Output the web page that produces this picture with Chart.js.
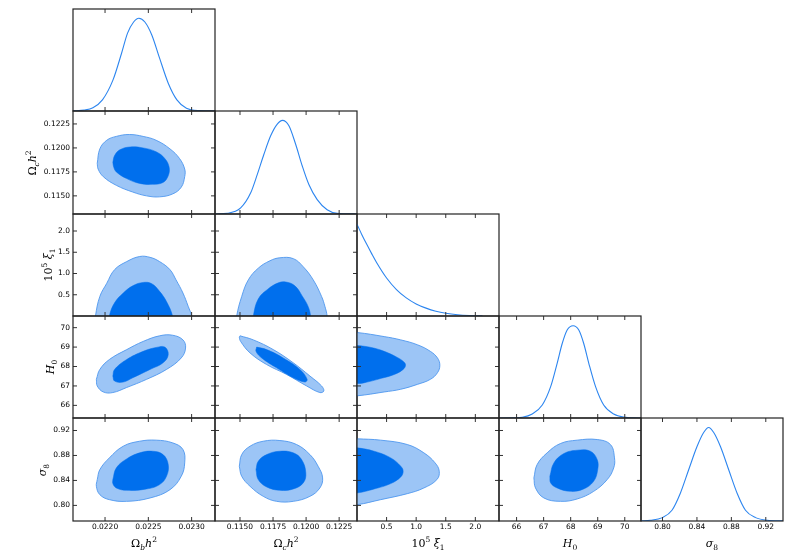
<!DOCTYPE html>
<html>
<head>
<meta charset="utf-8">
<script src="https://cdn.jsdelivr.net/npm/chart.js@4.4.0/dist/chart.umd.min.js"></script>
<style>
body { margin: 0; background: #fff; }
#wrap { position: relative; width: 797px; height: 556px; overflow: hidden; }
.panel { position: absolute; }
.lab { position: absolute; font-family: 'DejaVu Serif', serif; font-size: 11px; white-space: nowrap; color: #000; line-height: 1; }
.lab sub, .lab sup { font-size: 7.5px; line-height: 0; }
.xlab { transform: translate(-50%, -50%); }
.ylab { transform: translate(-50%, -50%) rotate(-90deg); }
</style>
</head>
<body>
<div id="wrap"></div>
<script>
// parameter names, axis ranges and ticks
const obName = 'Ω<sub><i>b</i></sub><i>h</i><sup>2</sup>';
const ocName = 'Ω<sub><i>c</i></sub><i>h</i><sup>2</sup>';
const xiName = '10<sup>5</sup> <i>ξ</i><sub>1</sub>';
const hName = '<i>H</i><sub>0</sub>';
const sName = '<i>σ</i><sub>8</sub>';

const obRange = [0.02163, 0.02327];
const ocRange = [0.11311, 0.12385];
const xiRange = [0, 2.4];
const hRange = [65.35, 70.6];
const sRange = [0.775, 0.940];

const obTicks = [0.0220, 0.0225, 0.0230];
const obTickLabels = ['0.0220', '0.0225', '0.0230'];
const ocTicks = [0.1150, 0.1175, 0.1200, 0.1225];
const ocTickLabels = ['0.1150', '0.1175', '0.1200', '0.1225'];
const xiTicks = [0.5, 1.0, 1.5, 2.0];
const xiTickLabels = ['0.5', '1.0', '1.5', '2.0'];
const hTicks = [66, 67, 68, 69, 70];
const hTickLabels = ['66', '67', '68', '69', '70'];
const sTicks = [0.80, 0.84, 0.88, 0.92];
const sTickLabels = ['0.80', '0.84', '0.88', '0.92'];

// 1D marginals
const obPdfX = [0.02163, 0.02176, 0.02186, 0.02197, 0.02209, 0.02219, 0.02226, 0.02233, 0.02239, 0.02246, 0.02254, 0.02263, 0.02273, 0.02283, 0.02294, 0.02310, 0.02327];
const obPdfY = [0.001, 0.010, 0.035, 0.12, 0.33, 0.62, 0.84, 0.96, 1.0, 0.96, 0.82, 0.57, 0.30, 0.12, 0.03, 0.004, 0.0005];
const ocPdfX = [0.11311, 0.11404, 0.11505, 0.11581, 0.11631, 0.11681, 0.11732, 0.11782, 0.11821, 0.11870, 0.11921, 0.11971, 0.12021, 0.12084, 0.12159, 0.12235, 0.12385];
const ocPdfY = [0.0005, 0.0075, 0.065, 0.226, 0.423, 0.638, 0.835, 0.96, 1.0, 0.943, 0.745, 0.513, 0.315, 0.154, 0.046, 0.0075, 0.0005];
const xiPdfX = [0, 0.08, 0.167, 0.25, 0.333, 0.5, 0.667, 0.833, 1.0, 1.167, 1.333, 1.5, 1.7, 1.9, 2.12];
const xiPdfY = [0.99, 0.88, 0.77, 0.67, 0.575, 0.41, 0.285, 0.195, 0.13, 0.085, 0.052, 0.03, 0.014, 0.006, 0.002];
const hPdfX = [65.35, 65.9, 66.21, 66.58, 66.95, 67.26, 67.5, 67.69, 67.87, 68.09, 68.3, 68.48, 68.67, 68.92, 69.22, 69.59, 70.03, 70.3, 70.6];
const hPdfY = [0.0003, 0.002, 0.0075, 0.043, 0.14, 0.338, 0.59, 0.806, 0.949, 0.995, 0.949, 0.806, 0.59, 0.338, 0.14, 0.043, 0.0075, 0.002, 0.0003];
const sPdfX = [0.775, 0.7857, 0.7999, 0.811, 0.8206, 0.8303, 0.8401, 0.8478, 0.8536, 0.8595, 0.8673, 0.877, 0.8868, 0.8964, 0.9081, 0.9217, 0.94];
const sPdfY = [0.002, 0.0075, 0.036, 0.115, 0.294, 0.545, 0.795, 0.945, 0.999, 0.945, 0.795, 0.545, 0.294, 0.115, 0.036, 0.0075, 0.001];
const pdfRange = [0, 1.1];

// 2D contours: 95% (outer) and 68% (inner), [x, y] pairs
const obOc95 = [[0.02191,0.1184],[0.02194,0.1199],[0.02202,0.1208],[0.02213,0.1212],[0.02228,0.1214],[0.02244,0.1212],[0.02259,0.1208],[0.02275,0.1199],[0.02286,0.1189],[0.02292,0.1178],[0.02292,0.1170],[0.02288,0.1159],[0.02278,0.1152],[0.02263,0.1149],[0.02248,0.1150],[0.02232,0.1154],[0.02213,0.1161],[0.02198,0.1170],[0.02192,0.1178]];
const obOc68 = [[0.02209,0.1185],[0.02211,0.1192],[0.02217,0.1198],[0.02229,0.1201],[0.02244,0.1200],[0.02259,0.1196],[0.02269,0.1189],[0.02274,0.1180],[0.02273,0.1171],[0.02267,0.1164],[0.02255,0.1162],[0.02240,0.1163],[0.02225,0.1168],[0.02213,0.1175],[0.02210,0.1180]];

const obXi95 = [[0.02189,-0.2],[0.02189,0],[0.02194,0.46],[0.02202,0.77],[0.02211,1.09],[0.02225,1.28],[0.02240,1.40],[0.02252,1.38],[0.02263,1.28],[0.02275,1.09],[0.02282,0.85],[0.02290,0.54],[0.02296,0.23],[0.02300,0],[0.02300,-0.2]];
const obXi68 = [[0.02205,-0.2],[0.02205,0],[0.02211,0.31],[0.02221,0.54],[0.02232,0.71],[0.02244,0.79],[0.02254,0.76],[0.02263,0.58],[0.02271,0.34],[0.02278,0],[0.02278,-0.2]];
const ocXi95 = [[0.11475,-0.2],[0.11475,0],[0.11513,0.46],[0.11563,0.85],[0.11638,1.125],[0.11727,1.30],[0.11802,1.37],[0.11903,1.35],[0.11978,1.16],[0.12054,0.85],[0.12117,0.46],[0.12142,0.23],[0.12159,0],[0.12159,-0.2]];
const ocXi68 = [[0.11601,-0.2],[0.11601,0],[0.11638,0.40],[0.11710,0.63],[0.11790,0.78],[0.11847,0.80],[0.11915,0.71],[0.11975,0.45],[0.12016,0.22],[0.12034,0],[0.12034,-0.2]];

const obH95 = [[0.02190,67.34],[0.02194,67.85],[0.02205,68.36],[0.02225,68.87],[0.02244,69.29],[0.02263,69.58],[0.02278,69.61],[0.02290,69.37],[0.02293,68.95],[0.02288,68.44],[0.02271,67.85],[0.02248,67.34],[0.02225,66.92],[0.02209,66.66],[0.02198,66.69],[0.02191,67.00]];
const obH68 = [[0.02209,67.51],[0.02211,67.85],[0.02225,68.36],[0.02244,68.78],[0.02259,68.98],[0.02269,69.00],[0.02273,68.61],[0.02267,68.19],[0.02252,67.85],[0.02232,67.42],[0.02221,67.20],[0.02211,67.25]];
const ocH95 = [[0.11500,69.58],[0.11601,69.37],[0.11752,68.87],[0.11903,68.19],[0.12029,67.51],[0.12117,67.00],[0.12134,66.74],[0.12104,66.66],[0.12004,67.00],[0.11853,67.59],[0.11702,68.10],[0.11576,68.70],[0.11505,69.29],[0.11495,69.51]];
const ocH68 = [[0.11626,69.00],[0.11702,68.87],[0.11827,68.44],[0.11953,67.85],[0.12008,67.34],[0.11991,67.20],[0.11903,67.42],[0.11777,67.93],[0.11664,68.44],[0.11621,68.78]];
const xiH95 = [[-0.2,69.76],[0,69.75],[0.46,69.54],[0.74,69.37],[1.02,69.12],[1.24,68.78],[1.36,68.44],[1.40,68.07],[1.36,67.68],[1.24,67.34],[1.02,67.08],[0.74,66.83],[0.46,66.69],[0,66.49],[-0.2,66.48]];
const xiH68 = [[-0.2,69.10],[0,69.08],[0.24,68.98],[0.46,68.78],[0.68,68.47],[0.79,68.24],[0.82,68.07],[0.78,67.85],[0.63,67.59],[0.41,67.39],[0.13,67.17],[0,67.12],[-0.2,67.10]];

const obS95 = [[0.02191,0.8413],[0.02194,0.8573],[0.02205,0.8761],[0.02221,0.8948],[0.02240,0.9028],[0.02259,0.9045],[0.02278,0.9002],[0.02290,0.8895],[0.02292,0.8681],[0.02288,0.8466],[0.02275,0.8252],[0.02252,0.8119],[0.02225,0.8065],[0.02205,0.8092],[0.02194,0.8172],[0.02190,0.8306]];
const obS68 = [[0.02209,0.8413],[0.02213,0.8600],[0.02225,0.8745],[0.02240,0.8842],[0.02255,0.8868],[0.02267,0.8814],[0.02273,0.8654],[0.02271,0.8466],[0.02263,0.8333],[0.02248,0.8263],[0.02225,0.8241],[0.02213,0.8279],[0.02209,0.8349]];
const ocS95 = [[0.11495,0.8627],[0.11513,0.8814],[0.11576,0.8948],[0.11676,0.9028],[0.11802,0.9039],[0.11928,0.8975],[0.12029,0.8814],[0.12091,0.8627],[0.12125,0.8440],[0.12104,0.8279],[0.12029,0.8145],[0.11903,0.8065],[0.11777,0.8065],[0.11676,0.8145],[0.11576,0.8306],[0.11513,0.8466]];
const ocS68 = [[0.11621,0.8573],[0.11638,0.8707],[0.11702,0.8814],[0.11802,0.8868],[0.11903,0.8842],[0.11966,0.8734],[0.11998,0.8520],[0.11978,0.8359],[0.11903,0.8263],[0.11802,0.8241],[0.11702,0.8295],[0.11638,0.8413]];
const xiS95 = [[-0.2,0.9068],[0,0.9066],[0.40,0.9045],[0.85,0.8975],[1.13,0.8842],[1.32,0.8681],[1.39,0.8547],[1.35,0.8413],[1.13,0.8279],[0.85,0.8188],[0.40,0.8092],[0,0.8011],[-0.2,0.8008]];
const xiS68 = [[-0.2,0.8924],[0,0.8922],[0.29,0.8868],[0.57,0.8761],[0.74,0.8627],[0.78,0.8547],[0.74,0.8456],[0.57,0.8349],[0.29,0.8263],[0,0.8199],[-0.2,0.8197]];
const hS95 = [[66.64,0.8440],[66.76,0.8654],[67.13,0.8842],[67.62,0.8991],[68.24,0.9045],[68.98,0.9055],[69.47,0.8975],[69.62,0.8761],[69.59,0.8600],[69.35,0.8413],[68.85,0.8225],[68.24,0.8103],[67.62,0.8065],[67.01,0.8119],[66.70,0.8279]];
const hS68 = [[67.23,0.8466],[67.38,0.8681],[67.75,0.8831],[68.24,0.8884],[68.73,0.8868],[68.98,0.8734],[69.00,0.8573],[68.85,0.8386],[68.48,0.8263],[67.99,0.8225],[67.50,0.8279],[67.26,0.8360]];

const params = [
  {name: obName, range: obRange, ticks: obTicks, labels: obTickLabels, pdfX: obPdfX, pdfY: obPdfY},
  {name: ocName, range: ocRange, ticks: ocTicks, labels: ocTickLabels, pdfX: ocPdfX, pdfY: ocPdfY},
  {name: xiName, range: xiRange, ticks: xiTicks, labels: xiTickLabels, pdfX: xiPdfX, pdfY: xiPdfY},
  {name: hName, range: hRange, ticks: hTicks, labels: hTickLabels, pdfX: hPdfX, pdfY: hPdfY},
  {name: sName, range: sRange, ticks: sTicks, labels: sTickLabels, pdfX: sPdfX, pdfY: sPdfY}
];
const contours = [
  [],
  [[obOc95, obOc68]],
  [[obXi95, obXi68], [ocXi95, ocXi68]],
  [[obH95, obH68], [ocH95, ocH68], [xiH95, xiH68]],
  [[obS95, obS68], [ocS95, ocS68], [xiS95, xiS68], [hS95, hS68]]
];

// layout
const PW = 142, ML = 40, MB = 16, PT = 3, PR = 3;
const colLeft = c => 73 + PW * c;
const rowTop = r => Math.round(9 + 102.35 * r);
const yLabelX = [32, 48, 50, 42];

const LIGHT = '#9cc5f6', EDGE = '#4f97ee', DARK = '#006fed', LINE = '#2c85ef';
const tickFont = {family: 'DejaVu Sans', size: 7.5};

// matplotlib-like frame with inward ticks on all four sides
const framePlugin = {
  id: 'frame',
  afterDatasetsDraw(chart, args, opts) {
    const {ctx, chartArea: a} = chart;
    ctx.save();
    ctx.strokeStyle = '#333';
    ctx.lineWidth = 1;
    const xs = chart.scales.x;
    ctx.beginPath();
    xs.ticks.forEach(t => {
      const p = xs.getPixelForValue(t.value);
      ctx.moveTo(p, a.bottom); ctx.lineTo(p, a.bottom - 4);
      ctx.moveTo(p, a.top); ctx.lineTo(p, a.top + 4);
    });
    if (opts.yTicks) {
      const ys = chart.scales.y;
      ys.ticks.forEach(t => {
        const p = ys.getPixelForValue(t.value);
        ctx.moveTo(a.left, p); ctx.lineTo(a.left + 4, p);
        ctx.moveTo(a.right, p); ctx.lineTo(a.right - 4, p);
      });
    }
    ctx.stroke();
    ctx.strokeStyle = '#222';
    ctx.lineWidth = 1.2;
    ctx.strokeRect(a.left, a.top, a.right - a.left, a.bottom - a.top);
    ctx.restore();
  }
};

function axis(range, ticks, labels, pos, showLabels, useTicks) {
  return {
    type: 'linear',
    position: pos,
    min: range[0],
    max: range[1],
    grid: {display: false, drawTicks: false},
    border: {display: false},
    afterBuildTicks: s => { s.ticks = useTicks ? ticks.map(v => ({value: v})) : []; },
    afterFit: s => {
      if (pos === 'bottom') s.height = MB; else s.width = ML;
      s.paddingTop = 0; s.paddingBottom = 0; s.paddingLeft = 0; s.paddingRight = 0;
    },
    ticks: {
      display: showLabels,
      autoSkip: false,
      maxRotation: 0,
      padding: pos === 'bottom' ? 2 : 3,
      font: tickFont,
      color: '#000',
      callback: (v, i) => labels[i]
    }
  };
}

function shape(pts, fillColor, edgeColor, width, order) {
  const data = pts.map(p => ({x: p[0], y: p[1]}));
  data.push({x: pts[0][0], y: pts[0][1]});
  return {
    data, order,
    fill: 'shape',
    backgroundColor: fillColor,
    borderColor: edgeColor,
    borderWidth: width,
    tension: 0.4,
    pointRadius: 0,
    clip: 0
  };
}

const wrap = document.getElementById('wrap');
for (let r = 0; r < 5; r++) {
  for (let c = 0; c <= r; c++) {
    const top = rowTop(r), h = rowTop(r + 1) - top;
    const div = document.createElement('div');
    div.className = 'panel';
    div.style.left = (colLeft(c) - ML) + 'px';
    div.style.top = (top - PT) + 'px';
    div.style.width = (PW + ML + PR) + 'px';
    div.style.height = (h + PT + MB) + 'px';
    const cv = document.createElement('canvas');
    div.appendChild(cv);
    wrap.appendChild(div);

    const px = params[c];
    const diag = r === c;
    let datasets, yAxis;
    if (diag) {
      datasets = [{
        data: px.pdfX.map((x, i) => ({x, y: px.pdfY[i]})),
        borderColor: LINE,
        borderWidth: 1.1,
        cubicInterpolationMode: 'monotone',
        fill: false,
        pointRadius: 0,
        clip: 0
      }];
      yAxis = axis(pdfRange, [], [], 'left', false, false);
    } else {
      const py = params[r];
      const [outer, inner] = contours[r][c];
      datasets = [shape(outer, LIGHT, EDGE, 0.9, 2), shape(inner, DARK, DARK, 0.5, 1)];
      yAxis = axis(py.range, py.ticks, py.labels, 'left', c === 0, true);
    }
    new Chart(cv, {
      type: 'line',
      data: {datasets},
      options: {
        responsive: true,
        maintainAspectRatio: false,
        animation: false,
        events: [],
        layout: {autoPadding: false, padding: {top: PT, right: PR, left: 0, bottom: 0}},
        scales: {
          x: axis(px.range, px.ticks, px.labels, 'bottom', r === 4, true),
          y: yAxis
        },
        plugins: {legend: {display: false}, tooltip: {enabled: false}, frame: {yTicks: !diag}}
      },
      plugins: [framePlugin]
    });
  }
}

// axis titles
params.forEach((p, c) => {
  const d = document.createElement('div');
  d.className = 'lab xlab';
  d.innerHTML = p.name;
  d.style.left = (colLeft(c) + PW / 2) + 'px';
  d.style.top = '543px';
  wrap.appendChild(d);
});
for (let r = 1; r < 5; r++) {
  const d = document.createElement('div');
  d.className = 'lab ylab';
  d.innerHTML = params[r].name;
  d.style.left = yLabelX[r - 1] + 'px';
  d.style.top = ((rowTop(r) + rowTop(r + 1)) / 2) + 'px';
  wrap.appendChild(d);
}
</script>
</body>
</html>
